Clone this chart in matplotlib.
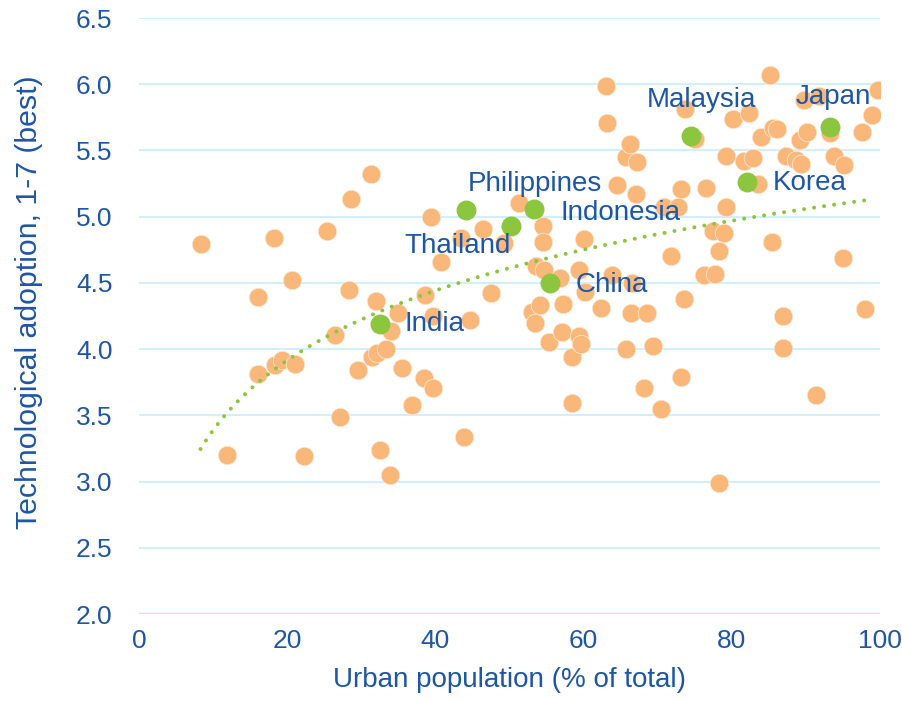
import numpy as np
import matplotlib
matplotlib.use("Agg")
import matplotlib.pyplot as plt

plt.rcParams['font.family'] = ['Liberation Sans', 'DejaVu Sans']

# all countries: urban population (%) and technological adoption score
urban = [8.3, 11.9, 16.0, 16.1, 18.2, 18.4, 19.3, 20.6, 21.1, 22.2,
         25.4, 26.5, 27.1, 28.3, 28.6, 29.6, 31.3, 31.4, 32.0, 32.1,
         32.5, 33.3, 33.9, 34.0, 34.9, 35.5, 36.9, 38.4, 38.6, 39.4,
         39.7, 39.7, 40.7, 43.5, 43.8, 44.7, 46.4, 47.5, 49.2, 51.3,
         53.1, 53.4, 53.6, 54.1, 54.5, 54.5, 54.6, 55.3, 56.8, 57.1,
         57.2, 58.4, 58.5, 59.4, 59.4, 59.6, 60.0, 60.2, 62.4, 63.0,
         63.2, 63.8, 64.5, 65.7, 65.7, 66.3, 66.4, 66.5, 67.1, 67.2,
         68.2, 68.6, 69.4, 70.4, 70.9, 71.8, 72.7, 73.1, 73.1, 73.6,
         73.7, 75.1, 76.2, 76.5, 77.4, 77.8, 78.3, 78.3, 78.9, 79.2,
         79.2, 80.2, 81.6, 82.3, 82.9, 83.5, 83.9, 85.2, 85.4, 85.6,
         86.1, 86.9, 86.9, 87.3, 88.6, 89.2, 89.3, 89.8, 90.1, 91.4,
         91.8, 93.2, 93.8, 95.0, 95.1, 97.6, 98.0, 98.9, 99.7]
tech = [4.79, 3.20, 4.39, 3.81, 4.84, 3.88, 3.92, 4.52, 3.89, 3.19,
        4.89, 4.11, 3.49, 4.45, 5.13, 3.84, 5.32, 3.94, 4.36, 3.97,
        3.24, 4.00, 3.05, 4.14, 4.27, 3.86, 3.58, 3.78, 4.41, 5.00,
        4.25, 3.71, 4.66, 4.84, 3.34, 4.22, 4.91, 4.42, 4.80, 5.10,
        4.28, 4.20, 4.63, 4.33, 4.93, 4.81, 4.60, 4.05, 4.54, 4.13,
        4.34, 3.59, 3.94, 4.60, 4.10, 4.04, 4.83, 4.43, 4.31, 5.99,
        5.71, 4.56, 5.24, 5.45, 4.00, 5.55, 4.27, 4.50, 5.17, 5.41,
        3.71, 4.27, 4.02, 3.55, 5.07, 4.70, 5.07, 5.21, 3.79, 4.38,
        5.81, 5.59, 4.56, 5.22, 4.89, 4.57, 4.74, 2.99, 4.88, 5.46,
        5.07, 5.74, 5.42, 5.78, 5.44, 5.25, 5.60, 6.07, 4.81, 5.67,
        5.66, 4.25, 4.01, 5.46, 5.43, 5.58, 5.40, 5.88, 5.64, 3.65,
        5.91, 5.63, 5.46, 4.69, 5.39, 5.64, 4.30, 5.77, 5.96]

# highlighted Asian economies
asia_names = ['India', 'Philippines', 'Thailand', 'Indonesia', 'China',
              'Malaysia', 'Korea', 'Japan']
asia_urban = [32.5, 44.1, 50.2, 53.3, 55.4, 74.5, 82.1, 93.2]
asia_tech = [4.19, 5.05, 4.93, 5.06, 4.50, 5.61, 5.26, 5.68]

blue = '#1E56A6'
orange = '#F9B87A'
green = '#8CC63F'

fig = plt.figure(figsize=(9.03, 7.02), dpi=100)
ax = fig.add_axes([139 / 903, 1 - 614 / 702, 741 / 903, 596 / 702])

ax.scatter(urban, tech, s=178, color=orange, edgecolors='#FDEBDA',
           linewidths=0.5, zorder=3)

# logarithmic trend line over all countries
all_x = np.array(urban + asia_urban)
all_y = np.array(tech + asia_tech)
b, a = np.polyfit(np.log(all_x), all_y, 1)
tx = np.linspace(min(all_x), 99.0, 200)
ax.plot(tx, a + b * np.log(tx), color=green, lw=2.9,
        linestyle=(0, (0.01, 2.5)), dash_capstyle='round', zorder=4)

ax.scatter(asia_urban, asia_tech, s=178, color=green, zorder=5)

# label offsets in pixels (dx, dy, ha)
offsets = {
    'India': (25, 0, 'left'),
    'Philippines': (2, 26, 'left'),
    'Thailand': (0, -20, 'right'),
    'Indonesia': (27, -4, 'left'),
    'China': (26, -2, 'left'),
    'Malaysia': (10, 36, 'center'),
    'Korea': (25, -1, 'left'),
    'Japan': (4, 30, 'center'),
}
for name, x, y in zip(asia_names, asia_urban, asia_tech):
    dx, dy, ha = offsets[name]
    ax.annotate(name, (x, y), xytext=(dx, dy), textcoords='offset pixels',
                ha=ha, va='center', fontsize=20, color=blue, zorder=6)

ax.set_xlim(0, 100)
ax.set_ylim(2.0, 6.5)
ax.set_xticks([0, 20, 40, 60, 80, 100])
ax.set_yticks(np.arange(2.0, 6.51, 0.5))
ax.yaxis.set_major_formatter(matplotlib.ticker.FormatStrFormatter('%.1f'))
ax.grid(axis='y', color='#CDEEFC', lw=1.3, zorder=0)
ax.grid(axis='x', visible=False)
ax.axhline(2.0, color='#9CC4E6', lw=1.6, zorder=1)
for s in ax.spines.values():
    s.set_visible(False)
ax.tick_params(length=0, labelsize=19, labelcolor=blue)
ax.tick_params(axis='y', pad=19)
ax.tick_params(axis='x', pad=11)

ax.set_xlabel('Urban population (% of total)', fontsize=20, color=blue,
              labelpad=10)
ax.set_ylabel('Technological adoption, 1-7 (best)', fontsize=21.8,
              color=blue)
ax.yaxis.set_label_coords(-0.129, 0.523)

fig.savefig('out.png', dpi=100)
